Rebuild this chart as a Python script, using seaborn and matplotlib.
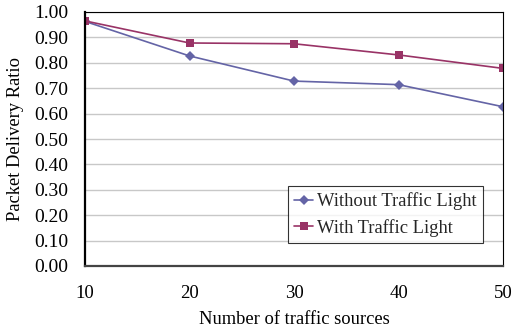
import matplotlib
matplotlib.use("Agg")
import matplotlib.pyplot as plt
import seaborn as sns
import pandas as pd

sources = [10, 20, 30, 40, 50]
without_light = [0.963, 0.827, 0.728, 0.714, 0.627]
with_light = [0.965, 0.878, 0.875, 0.831, 0.778]
series_names = ["Without Traffic Light", "With Traffic Light"]
y_ticks = [0.0, 0.1, 0.2, 0.3, 0.4, 0.5, 0.6, 0.7, 0.8, 0.9, 1.0]

df = pd.DataFrame({
    "sources": sources * 2,
    "pdr": without_light + with_light,
    "series": [series_names[0]] * len(sources) + [series_names[1]] * len(sources),
})

sns.set_theme(style="white")
plt.rcParams["font.family"] = ["Liberation Serif", "DejaVu Serif"]

fig = plt.figure(figsize=(5.14, 3.35), dpi=100)
ax = fig.add_axes([85 / 514, 1 - 266 / 335, (503 - 85) / 514, (266 - 12) / 335])

palette = {series_names[0]: "#6464A6", series_names[1]: "#993366"}
markers = {series_names[0]: "D", series_names[1]: "s"}
sns.lineplot(data=df, x="sources", y="pdr", hue="series", style="series",
             palette=palette, markers=markers, dashes=False, markersize=5.5,
             markeredgewidth=0, linewidth=1.2, ax=ax)

ax.set_xlim(10, 50)
ax.set_ylim(0, 1.0)
ax.set_yticks(y_ticks)
ax.set_yticklabels([f"{v:.2f}" for v in y_ticks])
ax.set_xticks(sources)
ax.yaxis.grid(True, color="#c8c8c8", linewidth=1)
ax.set_axisbelow(True)

for side in ["top", "right"]:
    ax.spines[side].set_color("black")
    ax.spines[side].set_linewidth(0.8)
ax.spines["left"].set_color("black")
ax.spines["left"].set_linewidth(1.6)
ax.spines["bottom"].set_color("#444444")
ax.spines["bottom"].set_linewidth(1.6)

ax.tick_params(axis="y", direction="in", length=5, width=1, color="black",
               labelsize=14, pad=12, labelcolor="black")
ax.tick_params(axis="x", direction="in", length=5, width=1, color="#aaaaaa",
               labelsize=13.5, pad=14, labelcolor="black")

ax.set_xlabel("Number of traffic sources", fontsize=13.3, labelpad=6, color="black")
ax.set_ylabel("Packet Delivery Ratio", fontsize=13.3, labelpad=7, color="black")

leg = ax.legend(loc="upper left", bbox_to_anchor=((288 - 85) / 418, 1 - (186 - 12) / 254),
                fontsize=13.3, frameon=True, fancybox=False, edgecolor="black",
                borderpad=0.35, handlelength=1.0, handletextpad=0.2,
                labelspacing=0.45, borderaxespad=0)
leg.get_frame().set_linewidth(0.8)

fig.savefig("out.png", dpi=100)
